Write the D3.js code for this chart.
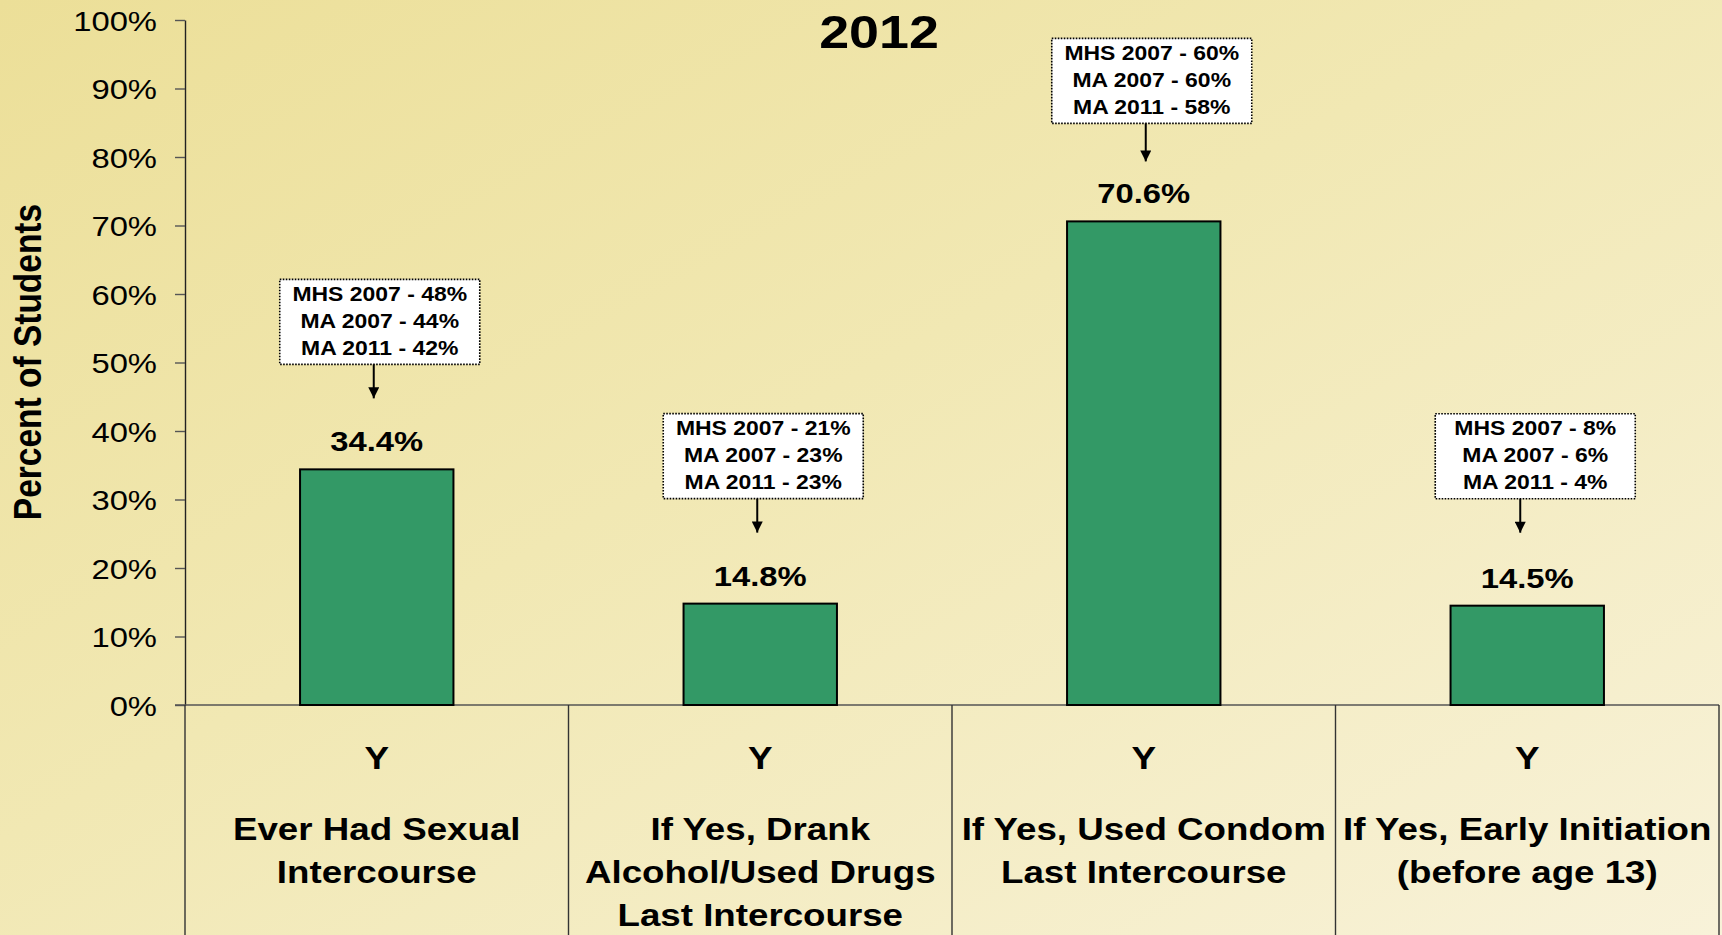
<!DOCTYPE html>
<html>
<head>
<meta charset="utf-8">
<script src="https://cdn.jsdelivr.net/npm/d3@7"></script>
<style>
  html, body { margin: 0; padding: 0; background: #F2EAB9; }
  svg { display: block; }
  text { font-family: "Liberation Sans", Arial, "DejaVu Sans", sans-serif; fill: #000; }
</style>
</head>
<body>
<svg id="chart" width="1722" height="935"></svg>
<script>
// ---------------- data ----------------
const title = "2012";
const yAxisTitle = "Percent of Students";
const categories = ["c1", "c2", "c3", "c4"];
const categoryFlags = ["Y", "Y", "Y", "Y"];
const categoryLabels = [
  ["Ever Had Sexual", "Intercourse"],
  ["If Yes, Drank", "Alcohol/Used Drugs", "Last Intercourse"],
  ["If Yes, Used Condom", "Last Intercourse"],
  ["If Yes, Early Initiation", "(before age 13)"]
];
const values2012 = [34.4, 14.8, 70.6, 14.5];
const comparisonNotes = [
  ["MHS 2007 - 48%", "MA 2007 - 44%", "MA 2011 - 42%"],
  ["MHS 2007 - 21%", "MA 2007 - 23%", "MA 2011 - 23%"],
  ["MHS 2007 - 60%", "MA 2007 - 60%", "MA 2011 - 58%"],
  ["MHS 2007 - 8%", "MA 2007 - 6%", "MA 2011 - 4%"]
];
const yTicks = [0, 10, 20, 30, 40, 50, 60, 70, 80, 90, 100];

// ---------------- layout ----------------
const W = 1722, H = 935;
const SX = 1.17; // horizontal stretch of the original slide text
const svg = d3.select("#chart");

const defs = svg.append("defs");
const grad = defs.append("linearGradient").attr("id", "bg")
  .attr("x1", 0).attr("y1", 0).attr("x2", 1).attr("y2", 1);
grad.append("stop").attr("offset", "0%").attr("stop-color", "#ECDF98");
grad.append("stop").attr("offset", "45%").attr("stop-color", "#F1E8B3");
grad.append("stop").attr("offset", "100%").attr("stop-color", "#F8F2D9");
svg.append("rect").attr("width", W).attr("height", H).attr("fill", "url(#bg)");

const x = d3.scaleBand().domain(categories).range([185, 1719]).paddingInner(0).paddingOuter(0);
const y = d3.scaleLinear().domain([0, 100]).range([705, 20]);
const bw = x.bandwidth();
const barW = bw * 0.4;

// helper: stretched text
function stext(g, tx, ty, str, size, anchor, weight, sx) {
  return g.append("text")
    .attr("transform", `translate(${tx},${ty}) scale(${sx || SX},1)`)
    .attr("text-anchor", anchor || "middle")
    .attr("font-size", size)
    .attr("font-weight", weight || "bold")
    .text(str);
}

// title
stext(svg, 879, 48, title, 46, "middle", "bold");

// y axis title
svg.append("text")
  .attr("transform", `translate(41,362) rotate(-90) scale(1,${SX})`)
  .attr("text-anchor", "middle")
  .attr("font-size", 33.5)
  .attr("font-weight", "bold")
  .text(yAxisTitle);

// y axis
const yAxis = d3.axisLeft(y).tickValues(yTicks).tickSize(10).tickSizeOuter(0)
  .tickFormat(d => d + "%");
const gy = svg.append("g").attr("transform", "translate(185,0)").call(yAxis);
gy.select(".domain").attr("stroke", "#222").attr("stroke-width", 1.4);
gy.selectAll(".tick line").attr("stroke", "#555").attr("stroke-width", 1.4);
gy.selectAll(".tick text")
  .attr("x", null).attr("dy", null)
  .attr("transform", `translate(-28,10) scale(${SX},1)`)
  .attr("font-size", 28)
  .attr("font-family", '"Liberation Sans", Arial, sans-serif')
  .attr("fill", "#000");

// baseline across plot
svg.append("line")
  .attr("x1", 175).attr("x2", x.range()[1])
  .attr("y1", y(0)).attr("y2", y(0))
  .attr("stroke", "#555").attr("stroke-width", 1.5);

// category dividers (table below)
const bounds = categories.map(c => x(c)).concat([x.range()[1]]);
svg.selectAll("line.div").data(bounds).join("line").attr("class", "div")
  .attr("x1", d => d).attr("x2", d => d)
  .attr("y1", y(0)).attr("y2", H)
  .attr("stroke", "#333").attr("stroke-width", 1.4);

// bars
svg.selectAll("rect.bar").data(values2012).join("rect").attr("class", "bar")
  .attr("x", (d, i) => x(categories[i]) + (bw - barW) / 2)
  .attr("y", d => y(d))
  .attr("width", barW)
  .attr("height", d => y(0) - y(d))
  .attr("fill", "#339966")
  .attr("stroke", "#000")
  .attr("stroke-width", 2);

// value labels
values2012.forEach((v, i) => {
  const cx = x(categories[i]) + bw / 2;
  stext(svg, cx, y(v) - 18, v.toFixed(1) + "%", 28, "middle", "bold");
});

// annotation boxes with arrows
defs.append("marker").attr("id", "arrow")
  .attr("viewBox", "0 0 10 10").attr("refX", 10).attr("refY", 5)
  .attr("markerWidth", 12).attr("markerHeight", 11)
  .attr("markerUnits", "userSpaceOnUse")
  .attr("orient", "auto")
  .append("path").attr("d", "M0,0 L10,5 L0,10 z").attr("fill", "#000");

const boxW = 200, boxH = 85, boxGap = 105, arrowLen = 34;
values2012.forEach((v, i) => {
  const cx = x(categories[i]) + bw / 2;
  const boxBottom = y(v) - boxGap + (i === 2 ? 7 : 0) - (i === 3 ? 2 : 0);
  const bcx = cx + 3 + (i === 2 ? 5 : 0) + (i === 3 ? 5 : 0);
  const bx = bcx - boxW / 2;
  const by = boxBottom - boxH;
  const g = svg.append("g");
  g.append("rect")
    .attr("x", bx).attr("y", by).attr("width", boxW).attr("height", boxH)
    .attr("fill", "#fff").attr("stroke", "#000")
    .attr("stroke-width", 1.6).attr("stroke-dasharray", "1.6,1.4");
  comparisonNotes[i].forEach((t, k) => {
    stext(g, bcx, by + 21.5 + k * 27, t, 20.5, "middle", "bold", 1.12);
  });
  const ax = cx - 3 + (i === 2 ? 5 : 0) - (i === 3 ? 4 : 0);
  g.append("line")
    .attr("x1", ax).attr("x2", ax)
    .attr("y1", boxBottom).attr("y2", boxBottom + arrowLen + (i === 2 ? 4 : 0))
    .attr("stroke", "#000").attr("stroke-width", 2)
    .attr("marker-end", "url(#arrow)");
});

// category labels
categories.forEach((c, i) => {
  const cx = x(c) + bw / 2;
  stext(svg, cx, 769, categoryFlags[i], 31.5, "middle", "bold");
  categoryLabels[i].forEach((t, k) => {
    stext(svg, cx, 840 + k * 43, t, 31.5, "middle", "bold", 1.165);
  });
});
</script>
</body>
</html>
